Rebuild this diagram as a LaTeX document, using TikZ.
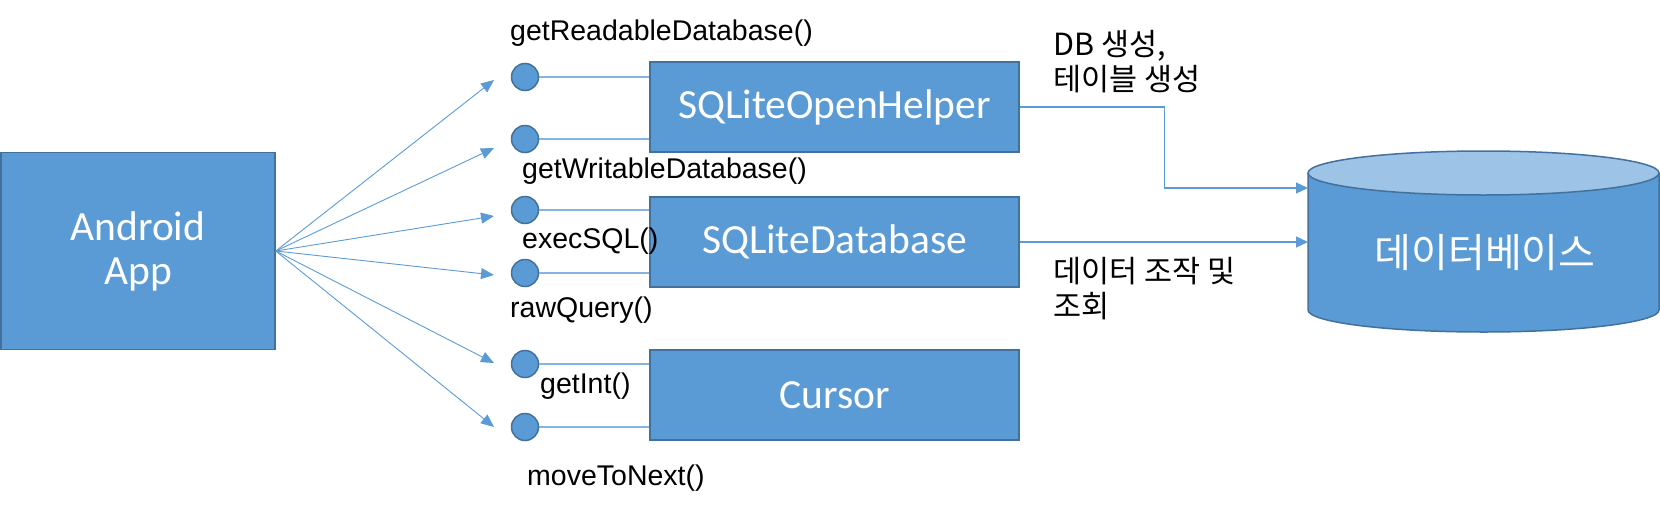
\documentclass[tikz,border=0pt]{standalone}
\usepackage{fontspec}
\setmainfont{Liberation Sans}
\newfontfamily\boxfont{Carlito}
\newfontfamily\kofont{Noto Sans CJK KR}
\usetikzlibrary{arrows.meta}
\definecolor{boxblue}{HTML}{5B9BD5}
\definecolor{edgeblue}{HTML}{41719C}
\definecolor{topblue}{HTML}{9DC3E6}
\begin{document}
\begin{tikzpicture}[x=1pt,y=-1pt,
  cls/.style={draw=edgeblue,fill=boxblue,line width=1.5pt,minimum width=369pt,minimum height=90pt,inner sep=0pt,text=white,font=\boxfont\fontsize{41.5}{44}\selectfont},
  dot/.style={circle,draw=edgeblue,fill=boxblue,line width=1.5pt,minimum size=27pt,inner sep=0pt},
  call/.style={draw=boxblue,line width=0.9pt,-{Triangle[length=13pt,width=11pt]}},
  tie/.style={draw=boxblue!75,line width=1.3pt},
  flow/.style={draw=boxblue,line width=1.2pt,-{Triangle[length=12pt,width=11pt]}},
  meth/.style={anchor=base west,inner sep=0pt,font=\fontsize{28.5}{34}\selectfont},
  note/.style={anchor=north west,inner sep=0pt,align=left,font=\kofont\fontsize{30.5}{35}\selectfont}]
\useasboundingbox (0,0) rectangle (1660,509);
\node[cls,minimum width=274pt,minimum height=197pt,align=center] (app) at (138,251) {Android\\App};
\node[cls] (helper) at (834.5,107) {SQLiteOpenHelper};
\node[cls] (sqldb) at (834.5,242) {SQLiteDatabase};
\node[cls] (cursor) at (834.5,395) {Cursor};
% database cylinder
\path[fill=boxblue,draw=edgeblue,line width=1.5pt] (1308,173) -- (1308,310) arc[start angle=180,end angle=360,x radius=175.5pt,y radius=22pt] -- (1659,173);
\filldraw[fill=topblue,draw=edgeblue,line width=1.5pt] (1483.5,173) ellipse [x radius=175.5pt,y radius=22pt];
\node[text=white,font=\kofont\fontsize{40}{44}\selectfont] (store) at (1485,253) {데이터베이스};
\coordinate (in1) at (1308,188);
\coordinate (in2) at (1308,242);
\draw[flow] (helper.east) -- ++(145,0) |- (in1);
\draw[flow] (sqldb.east) -- (in2);
\foreach \i/\y/\ty in {1/77/80,2/139/148,3/210/216,4/273/275,5/364/363,6/427/427} {
  \node[dot] (c\i) at (525,\y) {};
  \coordinate (t\i) at (494,\ty);
  \draw[call] (app.east) -- (t\i);
}
\foreach \i/\b in {1/helper,2/helper,3/sqldb,4/sqldb,5/cursor,6/cursor}
  \draw[tie] (c\i.east) -- (c\i.east -| \b.west);
\node[meth] (m1) at (510,40) {getReadableDatabase()};
\node[meth] (m2) at (522,178) {getWritableDatabase()};
\node[meth] (m3) at (522,248) {execSQL()};
\node[meth] (m4) at (510,317) {rawQuery()};
\node[meth] (m5) at (540,393) {getInt()};
\node[meth] (m6) at (527,485) {moveToNext()};
\node[note] (make) at (1053,30) {DB 생성,\\테이블 생성};
\node[note] (query) at (1053,257) {데이터 조작 및\\조회};
\end{tikzpicture}
\end{document}
